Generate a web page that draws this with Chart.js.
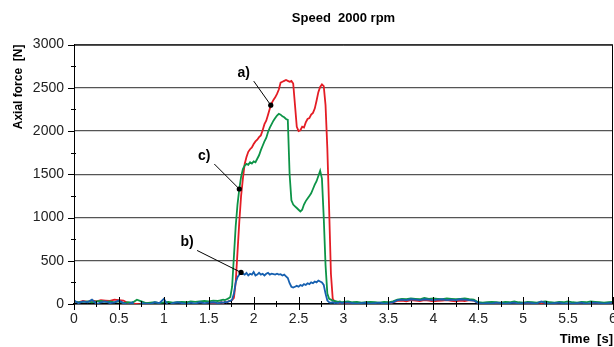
<!DOCTYPE html>
<html>
<head>
<meta charset="utf-8">
<script src="https://cdn.jsdelivr.net/npm/chart.js@4/dist/chart.umd.min.js"></script>
<style>
  body { margin: 0; background: #fff; }
  canvas { display: block; }
</style>
</head>
<body>
<canvas id="chart" width="614" height="347"></canvas>
<script>
// sample times [s]
const time = [
  0, 0.05, 0.1, 0.15, 0.2, 0.25, 0.3, 0.35, 0.4, 0.45, 0.5, 0.55, 0.6, 0.65, 0.7, 0.75,
  0.8, 0.85, 0.9, 0.95, 1, 1.05, 1.1, 1.15, 1.2, 1.25, 1.3, 1.35, 1.4, 1.45, 1.5, 1.55, 1.6,
  1.62, 1.64, 1.66, 1.68, 1.7, 1.72, 1.74, 1.76, 1.78, 1.8, 1.82, 1.84, 1.86, 1.88, 1.9, 1.92,
  1.94, 1.96, 1.98, 2, 2.02, 2.04, 2.06, 2.08, 2.1, 2.12, 2.14, 2.16, 2.18, 2.2, 2.22, 2.24,
  2.26, 2.28, 2.3, 2.32, 2.34, 2.36, 2.38, 2.4, 2.42, 2.44, 2.46, 2.48, 2.5, 2.52, 2.54, 2.56,
  2.58, 2.6, 2.62, 2.64, 2.66, 2.68, 2.7, 2.72, 2.74, 2.76, 2.78, 2.8, 2.82, 2.84, 2.86, 2.88,
  2.9, 2.92, 2.94, 2.96, 2.98, 3,
  3.05, 3.1, 3.15, 3.2, 3.25, 3.3, 3.35, 3.4, 3.45, 3.5, 3.55, 3.6, 3.65, 3.7, 3.75, 3.8,
  3.85, 3.9, 3.95, 4, 4.05, 4.1, 4.15, 4.2, 4.25, 4.3, 4.35, 4.4, 4.45, 4.5, 4.55, 4.6,
  4.65, 4.7, 4.75, 4.8, 4.85, 4.9, 4.95, 5, 5.05, 5.1, 5.15, 5.2, 5.25, 5.3, 5.35, 5.4,
  5.45, 5.5, 5.55, 5.6, 5.65, 5.7, 5.75, 5.8, 5.85, 5.9, 5.95, 6
];

// a) red
const forceA = [
  30, 20, 35, 25, 40, 30, 45, 40, 35, 50, 45, 40, 10, 5, 0, -5, 10, 0, -10, -20,
  -15, -30, -10, -20, -25, -10, -20, -5, -15, 0, -10, 10, 5,
  15, 20, 10, 25, 20, 30, 35, 45, 70, 250, 600, 950, 1250, 1450, 1620, 1700,
  1760, 1790, 1810, 1850, 1880, 1900, 1930, 1950, 2010, 2080, 2120, 2190, 2260, 2320, 2360, 2390,
  2430, 2480, 2560, 2570, 2580, 2590, 2580, 2570, 2580, 2550, 2300, 2050, 2000, 2010, 2050, 2040,
  2100, 2140, 2150, 2190, 2210, 2260, 2350, 2450, 2510, 2540, 2520, 2300, 1800, 1100, 350, 60,
  30, 20, 10, 0, 10, -5,
  10, -10, 0, -20, -10, -25, -5, -15, 0, -10, 20, 35, 40, 30, 45, 40,
  35, 45, 40, 30, 35, 40, 45, 35, 30, 40, 35, 45, 40, 10, -5, 0,
  -10, 5, -10, 0, -15, -5, 0, -10, 5, -5, -10, 0, -5, -15, 0, -10,
  5, -5, -10, 0, -5, -10, 5, -5, 0, -10, -5, 0
];

// b) blue
const forceB = [
  40, 10, 30, 20, 50, 0, 20, 30, 10, 20, 40, 10, -10, 20, -120, 10, 5, 0, 20, 10,
  60, -20, 10, 20, 10, 0, 15, 5, 20, 10, 15, 20, 10,
  10, 20, 15, 25, 20, 30, 35, 50, 120, 250, 310, 340, 365, 350, 340, 360,
  330, 350, 340, 370, 330, 340, 360, 340, 350, 330, 350, 360, 340, 350, 345, 340,
  350, 340, 345, 330, 340, 320, 300, 240, 200, 190, 200, 210, 200, 220, 210, 230,
  220, 240, 230, 250, 240, 260, 250, 270, 260, 250, 220, 120, 40, 20, 15, 20,
  10, 15, 10, 20, 10, 15,
  15, 10, 5, 10, 15, 5, 10, 15, 5, 10, 20, 45, 50, 45, 55, 50,
  45, 55, 50, 45, 50, 55, 45, 50, 45, 55, 50, 45, 40, 10, 5, 10,
  5, 15, 10, 5, 10, 15, 5, 10, 15, 10, 5, 30, 10, 5, 10, 15,
  5, 10, 5, 10, 15, 5, 10, 15, 10, 5, 10, 15
];

// c) green
const forceC = [
  30, 20, 25, 30, 20, 30, 35, 25, 30, 20, 30, 10, 20, 15, 50, 30, 10, 15, 20, 10,
  20, 25, 15, 20, 25, 20, 30, 25, 30, 35, 30, 40, 35,
  40, 45, 50, 45, 55, 65, 80, 200, 550, 900, 1150, 1330, 1470, 1560, 1600, 1620,
  1610, 1640, 1625, 1650, 1640, 1680, 1720, 1780, 1830, 1880, 1920, 1990, 2040, 2080, 2120, 2150,
  2180, 2200, 2190, 2170, 2160, 2140, 2130, 1500, 1200, 1150, 1130, 1110, 1090, 1070, 1090, 1150,
  1190, 1220, 1250, 1280, 1330, 1380, 1420, 1480, 1540, 1450, 1000, 450, 120, 60, 50, 40,
  35, 30, 25, 30, 20, 25,
  30, 20, 25, 15, 20, 25, 20, 15, 25, 20, 30, 50, 60, 55, 65, 60,
  55, 70, 60, 65, 60, 55, 65, 60, 55, 60, 65, 55, 50, 20, 15, 20,
  25, 20, 15, 25, 20, 30, 20, 15, 25, 20, 15, 25, 30, 20, 15, 25,
  20, 30, 20, 15, 25, 20, 30, 25, 20, 15, 20, 25
];

// labelled points: a), b), c)
const labels = [
  { text: 'a)', t: 2.19, v: 2300, dx: -27, dy: -32 },
  { text: 'c)', t: 1.84, v: 1330, dx: -35, dy: -33 },
  { text: 'b)', t: 1.86, v: 365, dx: -54, dy: -30 }
];

const FONT = "'Liberation Sans', Arial, sans-serif";

function pts(vals) {
  return vals.map((v, i) => ({ x: time[i], y: v }));
}

const isHalf = v => Math.abs(v * 2 - Math.round(v * 2)) < 1e-6;

const decor = {
  id: 'decor',
  afterDraw(chart) {
    const { ctx, chartArea: a, scales: { x, y } } = chart;
    ctx.save();
    ctx.strokeStyle = '#000';
    ctx.lineWidth = 1;
    // frame top + right
    ctx.beginPath();
    ctx.moveTo(a.left, a.top + 0.5);
    ctx.lineTo(a.right - 0.5, a.top + 0.5);
    ctx.lineTo(a.right - 0.5, a.bottom);
    ctx.stroke();
    // x tick marks
    x.ticks.forEach((t, i) => {
      const px = Math.round(x.getPixelForTick(i)) + 0.5;
      const big = isHalf(t.value);
      ctx.beginPath();
      ctx.moveTo(px, a.bottom - (big ? 7 : 3));
      ctx.lineTo(px, a.bottom + (big ? 6 : 3));
      ctx.stroke();
    });
    // y tick marks
    y.ticks.forEach((t, i) => {
      const py = Math.round(y.getPixelForTick(i)) + 0.5;
      const big = t.value % 500 === 0;
      ctx.beginPath();
      ctx.moveTo(a.left - (big ? 6 : 3), py);
      ctx.lineTo(a.left + (big ? 0 : 2), py);
      ctx.stroke();
    });
    // leader lines + labels
    ctx.fillStyle = '#000';
    ctx.font = 'bold 14px ' + FONT;
    ctx.textAlign = 'center';
    ctx.textBaseline = 'middle';
    labels.forEach(l => {
      const px = x.getPixelForValue(l.t);
      const py = y.getPixelForValue(l.v);
      ctx.beginPath();
      ctx.moveTo(px + l.dx + 10, py + l.dy + 8);
      ctx.lineTo(px, py);
      ctx.stroke();
      ctx.beginPath();
      ctx.arc(px, py, 2.6, 0, Math.PI * 2);
      ctx.fill();
      ctx.fillText(l.text, px + l.dx, py + l.dy);
    });
    ctx.restore();
  }
};

new Chart(document.getElementById('chart'), {
  type: 'line',
  data: {
    datasets: [
      { label: 'b)', data: pts(forceB), borderColor: '#1660b0', borderWidth: 1.8 },
      { label: 'c)', data: pts(forceC), borderColor: '#0d9447', borderWidth: 1.8 },
      { label: 'a)', data: pts(forceA), borderColor: '#e41d25', borderWidth: 1.8 }
    ]
  },
  options: {
    responsive: false,
    animation: false,
    events: [],
    layout: { padding: { left: 0, right: 1, top: 0, bottom: 0 } },
    elements: { point: { radius: 0 }, line: { tension: 0 } },
    plugins: {
      legend: { display: false },
      tooltip: { enabled: false },
      title: {
        display: true,
        fullSize: false,
        text: 'Speed  2000 rpm',
        color: '#000',
        font: { family: FONT, size: 13, weight: 'bold', lineHeight: 1.2 },
        padding: { top: 11, bottom: 18 }
      }
    },
    scales: {
      x: {
        type: 'linear',
        min: 0,
        max: 6,
        afterFit: s => { s.height = 43; s.paddingLeft = 0; s.paddingRight = 0; },
        border: { color: '#000', width: 1.5 },
        grid: { drawOnChartArea: false, drawTicks: false },
        ticks: {
          stepSize: 0.25,
          autoSkip: false,
          maxRotation: 0,
          padding: 7,
          color: '#222',
          font: { family: FONT, size: 14 },
          callback: v => isHalf(v) ? String(v) : ''
        },
        title: {
          display: true,
          text: 'Time  [s]',
          align: 'end',
          color: '#000',
          font: { family: FONT, size: 13, weight: 'bold', lineHeight: 1.2 },
          padding: { top: 0, bottom: 0 }
        }
      },
      y: {
        min: 0,
        max: 3000,
        afterFit: s => { s.width = 74; },
        border: { color: '#000', width: 1 },
        grid: {
          drawTicks: false,
          color: c => (c.tick && c.tick.value % 500 === 0) ? '#555' : 'rgba(0,0,0,0)',
          lineWidth: 1.2
        },
        ticks: {
          stepSize: 250,
          autoSkip: false,
          padding: 10,
          color: '#222',
          font: { family: FONT, size: 14 },
          callback: v => v % 500 === 0 ? String(v) : ''
        },
        title: {
          display: true,
          text: 'Axial force  [N]',
          align: 'end',
          color: '#000',
          font: { family: FONT, size: 12, weight: 'bold', lineHeight: 1.2 },
          padding: { top: 11, bottom: 0 }
        }
      }
    }
  },
  plugins: [decor]
});
</script>
</body>
</html>
